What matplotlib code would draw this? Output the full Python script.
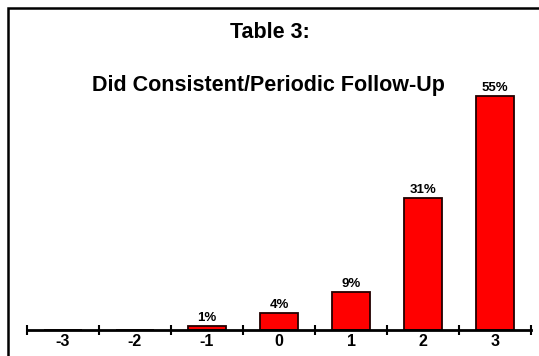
import matplotlib.pyplot as plt
from matplotlib.patches import Rectangle

# data
scores = ['-3', '-2', '-1', '0', '1', '2', '3']
shares = [0, 0, 1, 4, 9, 31, 55]
bar_labels = ['', '', '1%', '4%', '9%', '31%', '55%']

plt.rcParams['font.family'] = ['Liberation Sans', 'DejaVu Sans']
plt.rcParams['font.weight'] = 'bold'

fig = plt.figure(figsize=(5.39, 3.56), dpi=100)
ax = fig.add_axes([27 / 539, 26 / 356, 504 / 539, 255 / 356])

x = list(range(len(scores)))
bars = ax.bar(x, shares, width=0.52, color='#ff0000', edgecolor='#220000', linewidth=1.3)
for b, lab in zip(bars, bar_labels):
    if lab:
        ax.text(b.get_x() + b.get_width() / 2, b.get_height() + 0.5, lab,
                ha='center', va='bottom', fontsize=9.5, fontweight='bold')

ax.set_xlim(-0.5, len(scores) - 0.5)
ax.set_ylim(0, 60)

# category boundaries get cross ticks, labels sit at the centres
ax.set_xticks([i - 0.5 for i in range(len(scores) + 1)])
ax.set_xticklabels([])
ax.set_xticks(x, minor=True)
ax.set_xticklabels(scores, minor=True, fontsize=11.5, fontweight='bold')
ax.tick_params(axis='x', which='major', direction='inout', length=7, width=1.5)
ax.tick_params(axis='x', which='minor', length=0, pad=3)
ax.set_yticks([])

for side in ['top', 'right', 'left']:
    ax.spines[side].set_visible(False)
ax.spines['bottom'].set_linewidth(2)

# titles
fig.text(270 / 539, 1 - 32 / 356, 'Table 3:', ha='center', va='center',
         fontsize=15.5, fontweight='bold')
fig.text(268 / 539, 1 - 85 / 356, 'Did Consistent/Periodic Follow-Up', ha='center', va='center',
         fontsize=15.5, fontweight='bold')

# outer frame, running off the right and bottom edges
fig.patches.append(Rectangle((8 / 539, -0.1), 1.0, 1 - 8 / 356 + 0.1,
                             transform=fig.transFigure, fill=False,
                             edgecolor='black', linewidth=1.8))

fig.savefig('out.png', dpi=100)
